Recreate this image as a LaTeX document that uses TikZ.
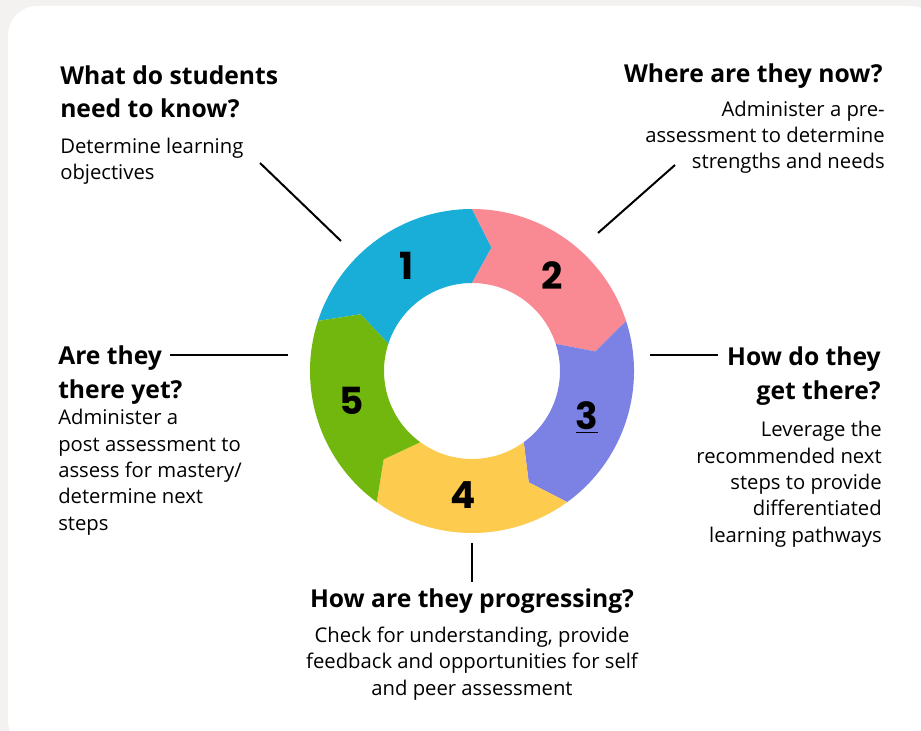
\documentclass[tikz,border=0pt]{standalone}
\usepackage{fontspec}
\setmainfont{Open Sans}
\newfontfamily\numfont{Poppins}
\definecolor{cardgray}{HTML}{F3F2F0}
\definecolor{segblue}{HTML}{19AED8}
\definecolor{segpink}{HTML}{F98A94}
\definecolor{segviolet}{HTML}{7B82E4}
\definecolor{segyellow}{HTML}{FDCB4D}
\definecolor{seggreen}{HTML}{72B70E}

\begin{document}
\begin{tikzpicture}[x=0.75pt,y=-0.75pt,
    head/.style={font=\fontsize{18.5}{25}\selectfont\bfseries,inner sep=0pt},
    body/.style={font=\fontsize{15.2}{19.7}\selectfont,inner sep=0pt},
    num/.style={font=\numfont\fontsize{28}{30}\selectfont\bfseries,inner sep=0pt},
    lead/.style={line width=1.5pt}]
    \useasboundingbox (0,0) rectangle (921,731);
    \fill[cardgray] (0,0) rectangle (921,731);
    \fill[white,rounded corners=22pt] (8,6) rectangle (940,750);

    % ring of five arrow segments
    \begin{scope}[shift={(472,371)},y=0.75pt]
        \foreach \b/\col/\n/\txt in {162/segblue/1/1, 90/segpink/2/2, 18/segviolet/3/\underline{3}, -54/segyellow/4/4, -126/seggreen/5/5}{
            \pgfmathsetmacro{\f}{\b-72}
            \fill[\col] (\b:162) arc (\b:\f:162) -- (\f-9:125) -- (\f:88) arc (\f:\b:88) -- (\b-9:125) -- cycle;
            \node[num] (n\n) at (\b-40:124) {\txt};
        }
    \end{scope}

    % questions and answers (anchored on their last line)
    \node[head,anchor=base west,align=left] (q1) at (60,118) {What do students\\need to know?};
    \node[body,anchor=base west,align=left] (d1) at (60,180) {Determine learning\\objectives};
    \node[head,anchor=base east,align=right] (q2) at (883,83) {Where are they now?};
    \node[body,anchor=base east,align=right] (d2) at (885,169) {Administer a pre-\\assessment to determine\\strengths and needs};
    \node[head,anchor=base east,align=right] (q3) at (881,399) {How do they\\get there?};
    \node[body,anchor=base east,align=right] (d3) at (882,542) {Leverage the\\recommended next\\steps to provide\\differentiated\\learning pathways};
    \node[head,anchor=base] (q4) at (472,607) {How are they progressing?};
    \node[body,anchor=base,align=center] (d4) at (472,695) {Check for understanding, provide\\feedback and opportunities for self\\and peer assessment};
    \node[head,anchor=base west,align=left] (q5) at (58,398) {Are they\\there yet?};
    \node[body,anchor=base west,align=left] (d5) at (58,530) {Administer a\\post assessment to\\assess for mastery/\\determine next\\steps};

    % leader lines
    \coordinate (l1a) at (260,163); \coordinate (l1b) at (341,241);
    \coordinate (l2a) at (675,165); \coordinate (l2b) at (598,233);
    \coordinate (l3a) at (650,355); \coordinate (l3b) at (718,355);
    \coordinate (l4a) at (472,543); \coordinate (l4b) at (472,582);
    \coordinate (l5a) at (170,355); \coordinate (l5b) at (288,355);
    \foreach \k in {1,...,5}
        \draw[lead] (l\k a) -- (l\k b);
\end{tikzpicture}
\end{document}
